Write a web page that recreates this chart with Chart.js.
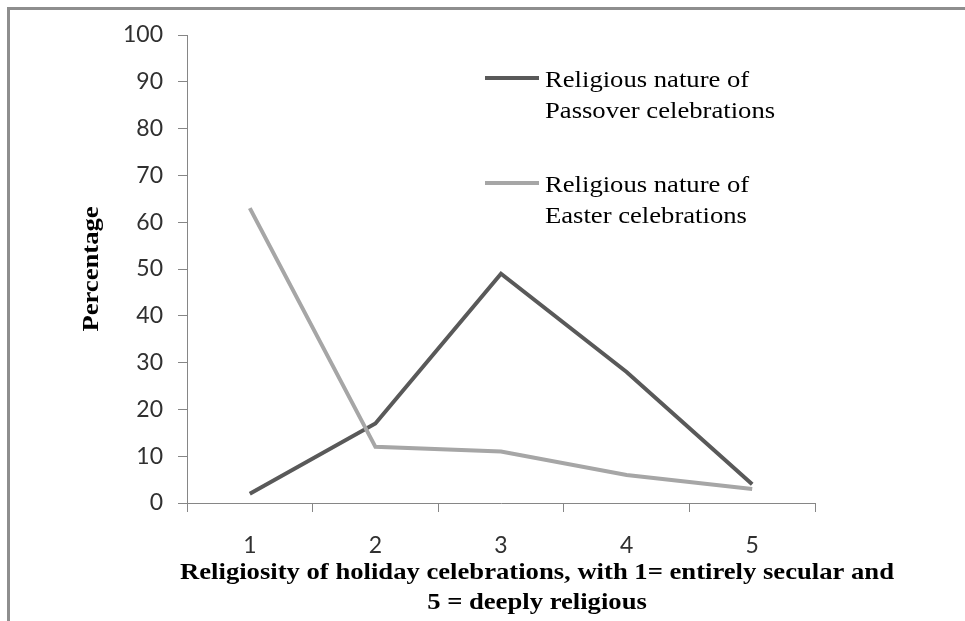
<!DOCTYPE html>
<html>
<head>
    <meta charset="UTF-8">
    <title>Religiosity of holiday celebrations</title>
    <script src="https://cdn.jsdelivr.net/npm/chart.js"></script>
    <style>
        html, body { margin: 0; padding: 0; background: #fff; overflow: hidden; }
        #wrap { position: relative; width: 965px; height: 621px; }
        #frame {
            position: absolute; left: 7px; top: 7px; width: 980px; height: 640px;
            border-left: 3px solid #8e8e8e; border-top: 3px solid #8e8e8e;
            box-sizing: border-box;
        }
        #religiosityChart { position: absolute; left: 0; top: 0; }
    </style>
</head>
<body>
    <div id="wrap">
        <div id="frame"></div>
        <canvas id="religiosityChart" width="965" height="621"></canvas>
    </div>

<script>
        // data
        var categories = ['1', '2', '3', '4', '5'];
        var passoverValues = [2, 17, 49, 28, 4];
        var easterValues = [63, 12, 11, 6, 3];
        var yTicks = [0, 10, 20, 30, 40, 50, 60, 70, 80, 90, 100];
        var seriesNames = [
            ['Religious nature of', 'Passover celebrations'],
            ['Religious nature of', 'Easter celebrations']
        ];
        var xTitle = ['Religiosity of holiday celebrations, with 1= entirely secular and', '5 = deeply religious'];
        var yTitle = 'Percentage';

        var axisColor = '#868686';
        var serif = '"Liberation Serif", "Times New Roman", serif';
        var stretch = 1.11; // the original serif text is a bit wider than Liberation Serif

        function wideText(ctx, text, x, y, align) {
            ctx.save();
            ctx.translate(x, y);
            ctx.scale(stretch, 1);
            ctx.textAlign = align;
            ctx.fillText(text, 0, 0);
            ctx.restore();
        }

        // titles and the two-line legend, drawn over the plot the way Excel lays them out
        var textPlugin = {
            id: 'excelText',
            afterDraw: function (chart) {
                var ctx = chart.ctx;
                var area = chart.chartArea;
                ctx.save();
                ctx.fillStyle = '#000';
                ctx.textBaseline = 'alphabetic';

                // legend
                ctx.font = '24px ' + serif;
                var legendTops = [78, 183];
                chart.data.datasets.forEach(function (ds, i) {
                    var y = legendTops[i];
                    ctx.strokeStyle = ds.borderColor;
                    ctx.lineWidth = ds.borderWidth;
                    ctx.beginPath();
                    ctx.moveTo(485, y);
                    ctx.lineTo(539, y);
                    ctx.stroke();
                    var lines = seriesNames[i];
                    for (var j = 0; j < lines.length; j++) {
                        wideText(ctx, lines[j], 545, y + 9 + j * 31, 'left');
                    }
                });

                // x title
                ctx.font = 'bold 24px ' + serif;
                wideText(ctx, xTitle[0], 537, 579, 'center');
                wideText(ctx, xTitle[1], 537, 609, 'center');

                // y title
                ctx.translate(98, (area.top + area.bottom) / 2);
                ctx.rotate(-Math.PI / 2);
                wideText(ctx, yTitle, 0, 0, 'center');
                ctx.restore();
            }
        };

        function createChart() {
            var ctx = document.getElementById('religiosityChart').getContext('2d');
            var chart = new Chart(ctx, {
                type: 'line',
                data: {
                    labels: categories,
                    datasets: [{
                        label: seriesNames[0].join(' '),
                        data: passoverValues,
                        borderColor: '#595959',
                        backgroundColor: '#595959',
                        borderWidth: 4,
                        pointRadius: 0,
                        tension: 0,
                        order: 1
                    }, {
                        label: seriesNames[1].join(' '),
                        data: easterValues,
                        borderColor: '#a6a6a6',
                        backgroundColor: '#a6a6a6',
                        borderWidth: 4,
                        pointRadius: 0,
                        tension: 0,
                        order: 0
                    }]
                },
                options: {
                    responsive: false,
                    animation: false,
                    layout: { padding: { left: 0, top: 35, right: 150, bottom: 0 } },
                    plugins: {
                        legend: { display: false },
                        tooltip: { enabled: false }
                    },
                    scales: {
                        x: {
                            offset: true,
                            grid: { offset: true, drawOnChartArea: false, drawTicks: true, tickLength: 9, color: axisColor },
                            border: { color: axisColor, width: 1 },
                            ticks: { color: '#303030', font: { family: 'Lato', size: 23 }, padding: 20, maxRotation: 0 },
                            afterFit: function (scale) { scale.height = 118; }
                        },
                        y: {
                            min: 0,
                            max: 100,
                            afterBuildTicks: function (scale) {
                                scale.ticks = yTicks.map(function (v) { return { value: v }; });
                            },
                            grid: { drawOnChartArea: false, drawTicks: true, tickLength: 9, color: axisColor },
                            border: { color: axisColor, width: 1 },
                            ticks: { color: '#303030', font: { family: 'Lato', size: 23 }, padding: 15 },
                            afterFit: function (scale) { scale.width = 187; }
                        }
                    }
                },
                plugins: [textPlugin]
            });
        }
        createChart();
    </script>
</body>
</html>
